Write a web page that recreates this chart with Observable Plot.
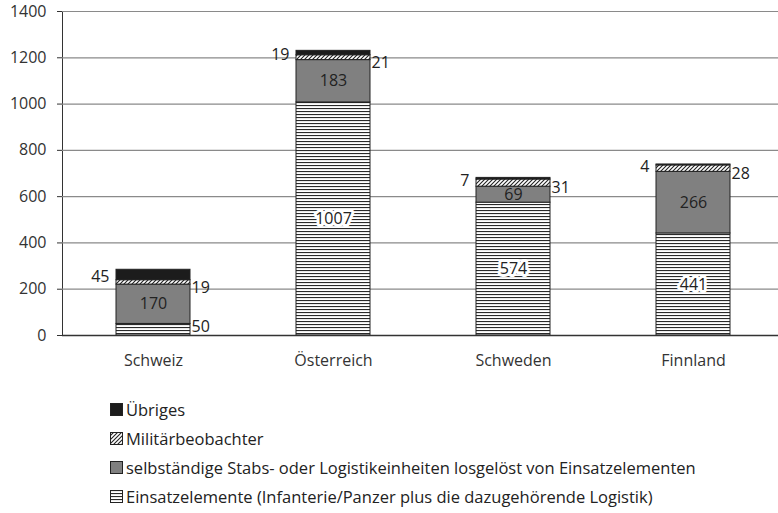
<!DOCTYPE html>
<html><head><meta charset="utf-8">
<script src="https://cdn.jsdelivr.net/npm/d3@7"></script>
<script src="https://cdn.jsdelivr.net/npm/@observablehq/plot@0.6"></script>
<style>
body{margin:0;background:#fff;font-family:"Open Sans",sans-serif;color:#222}
#legend{margin-left:110px;padding-top:10px;font-size:16.5px}
.row{height:29px;display:flex;align-items:center}
.row svg{margin-right:3px;flex:none}
</style></head><body>
<svg width="0" height="0" style="position:absolute"><defs>
<pattern id="pH" patternUnits="userSpaceOnUse" width="6" height="3">
<rect width="6" height="3" fill="#fff"/><rect y="0" width="6" height="1.1" fill="#2a2a2a"/></pattern>
<pattern id="pD" patternUnits="userSpaceOnUse" width="4" height="4">
<rect width="4" height="4" fill="#fff"/><path d="M-1,1 l2,-2 M0,4 l4,-4 M3,5 l2,-2" stroke="#222" stroke-width="1.1"/></pattern>
</defs></svg>
<div id="chart"></div>
<div id="legend"></div>
<script>
const countries = ["Schweiz", "Österreich", "Schweden", "Finnland"];
const series = [
  "Einsatzelemente (Infanterie/Panzer plus die dazugehörende Logistik)",
  "selbständige Stabs- oder Logistikeinheiten losgelöst von Einsatzelementen",
  "Militärbeobachter",
  "Übriges"
];
const einsatz = [50, 1007, 574, 441];
const stabs = [170, 183, 69, 266];
const militaer = [19, 21, 31, 28];
const uebriges = [45, 19, 7, 4];
const yTicks = [0, 200, 400, 600, 800, 1000, 1200, 1400];
const fills = ["url(#pH)", "#808080", "url(#pD)", "#1c1c1c"];

const values = [einsatz, stabs, militaer, uebriges];
const rows = [];
countries.forEach((c, i) => {
  let acc = 0;
  values.forEach((arr, s) => {
    const v = arr[i];
    const pos = s === 0 ? (v < 100 ? "rightLow" : "centerBox") : s === 1 ? "center" : s === 2 ? "right" : "left";
    rows.push({country: c, series: series[s], value: v, y1: acc, y2: acc + v, mid: acc + v / 2, pos});
    acc += v;
  });
});

const chart = Plot.plot({
  width: 778,
  height: 385,
  marginTop: 11,
  marginBottom: 50,
  marginLeft: 62,
  marginRight: 0,
  style: {fontFamily: "Open Sans, sans-serif", fontSize: "16px", color: "#333", background: "white"},
  x: {domain: countries, range: [62, 784], paddingInner: 0.59, paddingOuter: 0.295, tickSize: 0, tickPadding: 19, label: null},
  y: {domain: [0, 1400], ticks: yTicks, tickFormat: d => String(d), tickSize: 5, tickPadding: 11, label: null, line: true},
  color: {domain: series, range: fills},
  marks: [
    Plot.ruleY(yTicks.slice(1), {stroke: "#8a8a8a", strokeWidth: 1.2}),
    Plot.barY(rows, {x: "country", y1: "y1", y2: "y2", fill: "series", stroke: "#222", strokeWidth: 1}),
    Plot.ruleY([0], {stroke: "#333", strokeWidth: 1.5}),
    Plot.text(rows.filter(d => d.pos === "centerBox"), {x: "country", y: "mid", text: d => String(d.value), fill: "#222", stroke: "white", strokeWidth: 6, fontSize: 16}),
    Plot.text(rows.filter(d => d.pos === "center"), {x: "country", y: "mid", text: d => String(d.value), fill: "#222", fontSize: 16}),
    Plot.text(rows.filter(d => d.pos === "right"), {x: "country", y: "mid", text: d => String(d.value), fill: "#222", fontSize: 16, textAnchor: "start", dx: 38, dy: 5}),
    Plot.text(rows.filter(d => d.pos === "rightLow"), {x: "country", y: "mid", text: d => String(d.value), fill: "#222", fontSize: 16, textAnchor: "start", dx: 38, dy: -3}),
    Plot.text(rows.filter(d => d.pos === "left"), {x: "country", y: "mid", text: d => String(d.value), fill: "#222", fontSize: 16, textAnchor: "end", dx: -44, dy: 2})
  ]
});
document.getElementById("chart").appendChild(chart);

const legend = document.getElementById("legend");
[3, 2, 1, 0].forEach(s => {
  const row = document.createElement("div");
  row.className = "row";
  row.innerHTML = `<svg width="13" height="13"><rect x="0.5" y="0.5" width="12" height="12" fill="${fills[s]}" stroke="#222" stroke-width="1"/></svg><span>${series[s]}</span>`;
  legend.appendChild(row);
});
</script>
</body></html>
